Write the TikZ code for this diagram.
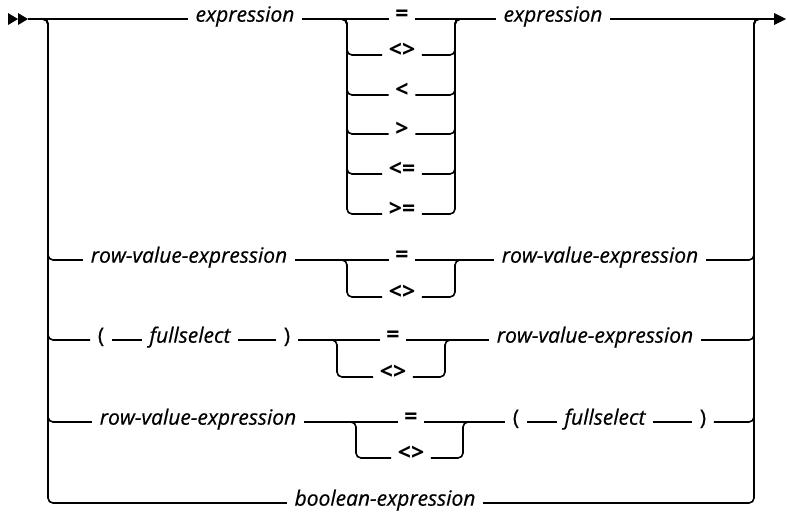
\documentclass[tikz,border=0pt]{standalone}
\usepackage{fontspec}
\setmainfont{Open Sans}
\newfontfamily\ntfont{Open Sans}[FakeBold=0.5]
\begin{document}
\begin{tikzpicture}[x=1pt,y=-1pt,line width=1.6pt,
  nt/.style={font=\ntfont\itshape\fontsize{21}{24}\selectfont,inner xsep=7pt,inner ysep=0pt,anchor=mid},
  op/.style={font=\bfseries\fontsize{23}{26}\selectfont,inner xsep=6pt,inner ysep=0pt,anchor=mid},
  pn/.style={font=\ntfont\fontsize{21}{24}\selectfont,inner xsep=7pt,inner ysep=0pt,anchor=mid},
  rc/.style={rounded corners=5pt}]
\useasboundingbox (0,0) rectangle (787,514);
% rails
\coordinate (start) at (28,19);
\coordinate (lr) at (48,19);
\coordinate (rr) at (754,19);
\coordinate (end) at (774,19);
% row 1
\node[nt] (e1) at (245,19) {expression};
\node[op] (o1) at (402,19) {=};
\node[op] (o2) at (402,55) {<>};
\node[op] (o3) at (402,95) {<};
\node[op] (o4) at (402,134) {>};
\node[op] (o5) at (402,174) {<=};
\node[op] (o6) at (402,214) {>=};
\node[nt] (e2) at (553,19) {expression};
\coordinate (jl1) at (347,19);
\coordinate (jr1) at (455,19);
\draw (start) -- (e1.mid west);
\draw (e1.mid east) -- (o1.mid west);
\draw (o1.mid east) -- (e2.mid west);
\draw (e2.mid east) -- (end);
\foreach \o in {o2,o3,o4,o5,o6}{
  \draw[rc] (jl1) ++(-6,0) -- (jl1) |- (\o.mid west);
  \draw[rc] (\o.mid east) -| (jr1) -- ++(6,0);
}
% row 2
\node[nt] (r2a) at (189,260) {row-value-expression};
\node[op] (r2o1) at (402,260) {=};
\node[op] (r2o2) at (402,297) {<>};
\node[nt] (r2b) at (600,260) {row-value-expression};
\coordinate (jl2) at (347,260);
\coordinate (jr2) at (455,260);
\draw (r2a.mid east) -- (r2o1.mid west);
\draw (r2o1.mid east) -- (r2b.mid west);
\draw[rc] (jl2) ++(-6,0) -- (jl2) |- (r2o2.mid west);
\draw[rc] (r2o2.mid east) -| (jr2) -- ++(6,0);
% row 3
\node[pn] (p1) at (101,340) {(};
\node[nt] (fs1) at (190,340) {fullselect};
\node[pn] (p2) at (287,340) {)};
\node[op] (r3o1) at (393,340) {=};
\node[op] (r3o2) at (393,377) {<>};
\node[nt] (r3b) at (595,340) {row-value-expression};
\coordinate (jl3) at (337,340);
\coordinate (jr3) at (445,340);
\draw (p1.mid east) -- (fs1.mid west);
\draw (fs1.mid east) -- (p2.mid west);
\draw (p2.mid east) -- (r3o1.mid west);
\draw (r3o1.mid east) -- (r3b.mid west);
\draw[rc] (jl3) ++(-6,0) -- (jl3) |- (r3o2.mid west);
\draw[rc] (r3o2.mid east) -| (jr3) -- ++(6,0);
% row 4
\node[nt] (r4a) at (198,422) {row-value-expression};
\node[op] (r4o1) at (411,422) {=};
\node[op] (r4o2) at (411,458) {<>};
\node[pn] (p3) at (516,422) {(};
\node[nt] (fs2) at (605,422) {fullselect};
\node[pn] (p4) at (703,422) {)};
\coordinate (jl4) at (356,422);
\coordinate (jr4) at (463,422);
\draw (r4a.mid east) -- (r4o1.mid west);
\draw (r4o1.mid east) -- (p3.mid west);
\draw (p3.mid east) -- (fs2.mid west);
\draw (fs2.mid east) -- (p4.mid west);
\draw[rc] (jl4) ++(-6,0) -- (jl4) |- (r4o2.mid west);
\draw[rc] (r4o2.mid east) -| (jr4) -- ++(6,0);
% row 5
\node[nt] (be) at (385,503) {boolean-expression};
% left rail branches
\foreach \n in {r2a,p1,r4a,be}{
  \draw[rc] (lr) ++(-6,0) -- (lr) |- (\n.mid west);
}
% right rail branches
\foreach \n in {r2b,r3b,p4,be}{
  \draw[rc] (\n.mid east) -| (rr) -- ++(6,0);
}
% arrowheads
\fill (8,13) -- (18,19) -- (8,25) -- cycle;
\fill (18,13) -- (28,19) -- (18,25) -- cycle;
\fill (774,13) -- (786,19) -- (774,25) -- cycle;
\end{tikzpicture}
\end{document}
